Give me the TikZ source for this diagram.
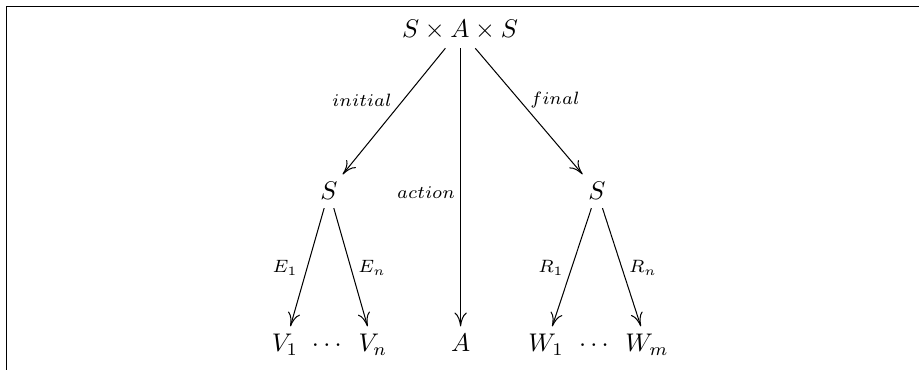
\documentclass[tikz,border=0pt]{standalone}
\usepackage{amsmath}
\usetikzlibrary{arrows.meta}
\tikzset{
  maparrow/.style={-{To[length=1.9mm,width=1.7mm]},line width=0.4pt,draw=black},
  framerule/.style={line width=0.5pt,draw=black},
  objnode/.style={anchor=base,inner sep=3pt},
  maplabel/.style={font=\scriptsize,inner sep=1pt},
}

\begin{document}
\begin{tikzpicture}[x=1cm,y=1cm]
    \useasboundingbox (0,0) rectangle (12.66,5.097);
    % frame of the figure
    \draw[framerule] (0.09,0) -- (0.09,5.01) -- (12.66,5.01);

    \node[objnode] (sas) at (6.337,4.574) {$S\times A\times S$};
    \node[objnode] (sinit) at (4.532,2.342) {$S$};
    \node[objnode] (sfinal) at (8.224,2.342) {$S$};
    \node[objnode] (v1) at (3.926,0.248) {$V_1$};
    \node[objnode] (vdots) at (4.532,0.248) {$\cdots$};
    \node[objnode] (vn) at (5.138,0.248) {$V_n$};
    \node[objnode] (act) at (6.345,0.248) {$A$};
    \node[objnode] (w1) at (7.522,0.248) {$W_1$};
    \node[objnode] (wdots) at (8.211,0.248) {$\cdots$};
    \node[objnode] (wm) at (8.913,0.248) {$W_m$};

    \draw[maparrow] (sas) -- (sinit);
    \draw[maparrow] (sas.south -| act) -- (act);
    \draw[maparrow] (sas) -- (sfinal);
    \draw[maparrow] (sinit) -- (v1);
    \draw[maparrow] (sinit) -- (vn);
    \draw[maparrow] (sfinal) -- (w1);
    \draw[maparrow] (sfinal) -- (wm);

    \node[maplabel] (linit) at (4.987,3.720) {$initial$};
    \node[maplabel] (lfinal) at (7.646,3.720) {$final$};
    \node[maplabel] (lact) at (5.869,2.438) {$action$};
    \node[maplabel] (le1) at (3.926,1.405) {$E_1$};
    \node[maplabel] (len) at (5.125,1.405) {$E_n$};
    \node[maplabel] (lr1) at (7.591,1.405) {$R_1$};
    \node[maplabel] (lrn) at (8.858,1.405) {$R_n$};
\end{tikzpicture}
\end{document}
